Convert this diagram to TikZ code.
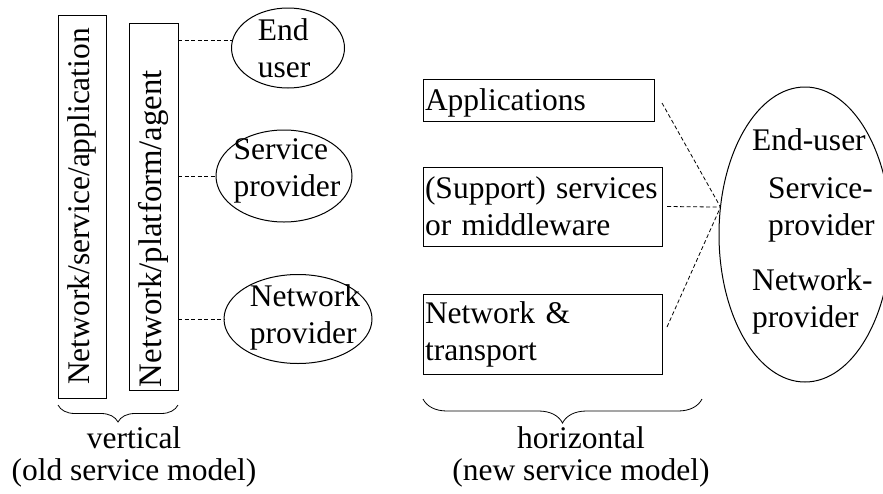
\documentclass[tikz,border=0pt]{standalone}
\usepackage{fontspec}
\setmainfont{Liberation Serif}
\usetikzlibrary{positioning,shapes.geometric,decorations.pathreplacing}

\begin{document}
\begin{tikzpicture}[x=1pt,y=-1pt,on grid,line width=1pt,
  every node/.style={font=\fontsize{31.5}{37}\selectfont,inner sep=0pt,outer sep=0pt},
  bar/.style={draw,rotate=90,minimum height=48pt},
  layer/.style={draw,inner xsep=2pt,align=left},
  oval/.style={draw,ellipse}]
  \useasboundingbox (0,0) rectangle (883,493);

  % old model
  \node[bar,minimum width=383pt]          (vsa) at (82,206.5)          {Network/service/application};
  \node[bar,minimum height=49pt,inner xsep=3pt,text width=361pt,align=left,font=\fontsize{32.8}{37}\selectfont]
                                          (vpa) [right=71.5pt of vsa]  {Network/platform/agent};
  \node[oval,minimum width=113pt,minimum height=80pt,label={[align=left,xshift=-4pt]center:End\\user}]
                                          (eu)  [above right=158.5pt and 134.5pt of vpa] {};
  \node[oval,minimum width=136pt,minimum height=92pt,label={[align=left,xshift=3pt,yshift=5pt]center:Service\\provider}]
                                          (sp)  [below left=128pt and 4pt of eu]   {};
  \node[oval,minimum width=148pt,minimum height=89pt,label={[align=left,xshift=7pt,yshift=2pt]center:Network\\provider}]
                                          (np)  [below right=143pt and 14pt of sp] {};

  % new model
  \node[layer,text width=227pt,text depth=0pt,minimum height=42pt] (apps) at (538.5,100) {Applications};
  \node[layer,text width=235pt,minimum height=79pt] (sup)  [below right=106.5pt and 4pt of apps] {(Support) services\\or middleware};
  \node[layer,text width=235pt,minimum height=80pt] (net)  [below=127.5pt of sup] {Network \&\\transport};
  \node[oval,minimum width=172pt,minimum height=295pt] (prov) [below right=28pt and 262.5pt of sup] {};
  \node[anchor=base west]            (enduser) at (752,150) {End-user};
  \node[anchor=base west,align=left] (service) at (768,235) {Service-\\provider};
  \node[anchor=base west,align=left] (network) at (752,327) {Network-\\provider};
  \coordinate (hub) at (prov.162);

\tikzset{link/.style={dash pattern=on 4pt off 2.5pt,line width=0.8pt}}
\path (vpa.south |- eu.172)  edge [link] (eu.172)
      (vpa.south |- sp.west) edge [link] (sp.west)
      (vpa.south |- np.west) edge [link] (np.west)
      ([xshift=8pt,yshift=-3pt]apps.east) edge [link] (hub)
      ([xshift=5pt]sup.east)              edge [link] (hub)
      ([xshift=5pt,yshift=7pt]net.east)   edge [link] (hub);

\tikzset{curly/.style={decorate,decoration={brace,mirror,amplitude=#1},line width=0.8pt}}
  \coordinate (vl) at ([yshift=-7pt]vsa.north west);
  \coordinate (vr) at (vl -| vpa.south west);
  \coordinate (hl) at (423,399);
  \coordinate (hr) at (702,399);
  \draw[curly=17pt] (vl) -- (vr);
  \draw[curly=24pt] (hl) -- (hr);
  \node[align=center,anchor=base,font=\fontsize{31.5}{32}\selectfont] (vlab) at (134,480) {vertical\\(old service model)};
  \node[align=center,anchor=base,font=\fontsize{31.5}{32}\selectfont] (hlab) at (581,480) {horizontal\\(new service model)};
\end{tikzpicture}
\end{document}
